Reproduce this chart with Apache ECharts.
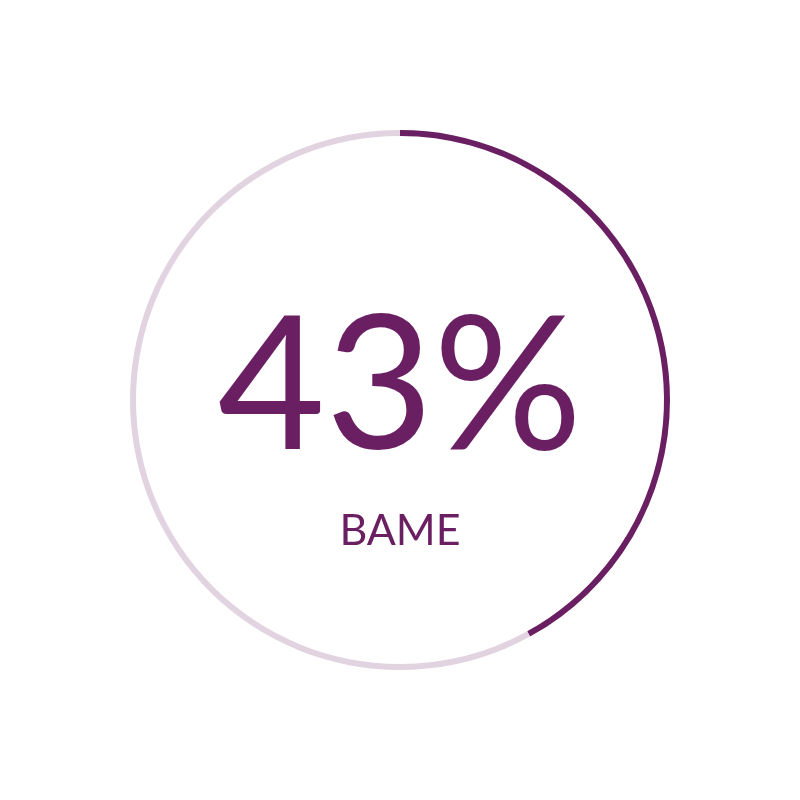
<!DOCTYPE html>
<html>
<head>
<meta charset="utf-8">
<script src="https://cdn.jsdelivr.net/npm/echarts@6/dist/echarts.min.js"></script>
<style>html,body{margin:0;padding:0;background:#fff}#c{width:800px;height:800px}</style>
</head>
<body>
<div id="c"></div>
<script>
var categories = ['BAME', 'Other'];
var values = [42, 58];
var headline = '43%';
var caption = 'BAME';

var chart = echarts.init(document.getElementById('c'), null, {renderer: 'canvas'});
chart.setOption({
  backgroundColor: '#ffffff',
  animation: false,
  series: [{
    type: 'pie',
    center: [400, 400],
    radius: [264, 270],
    startAngle: 90,
    clockwise: true,
    silent: true,
    label: {show: false},
    labelLine: {show: false},
    data: categories.map(function (c, i) {
      return {name: c, value: values[i], itemStyle: {color: i === 0 ? '#6b1f63' : '#e2d3e1'}};
    }),
    itemStyle: {borderWidth: 0}
  }],
  graphic: [
    {type: 'text', left: 'center', top: 296, style: {text: headline, font: '400 186px Lato, "Open Sans", sans-serif', fill: '#6b1f63'}},
    {type: 'text', left: 'center', top: 510, style: {text: caption, font: '400 43px Lato, "Open Sans", sans-serif', fill: '#6b1f63'}}
  ]
});
</script>
</body>
</html>
